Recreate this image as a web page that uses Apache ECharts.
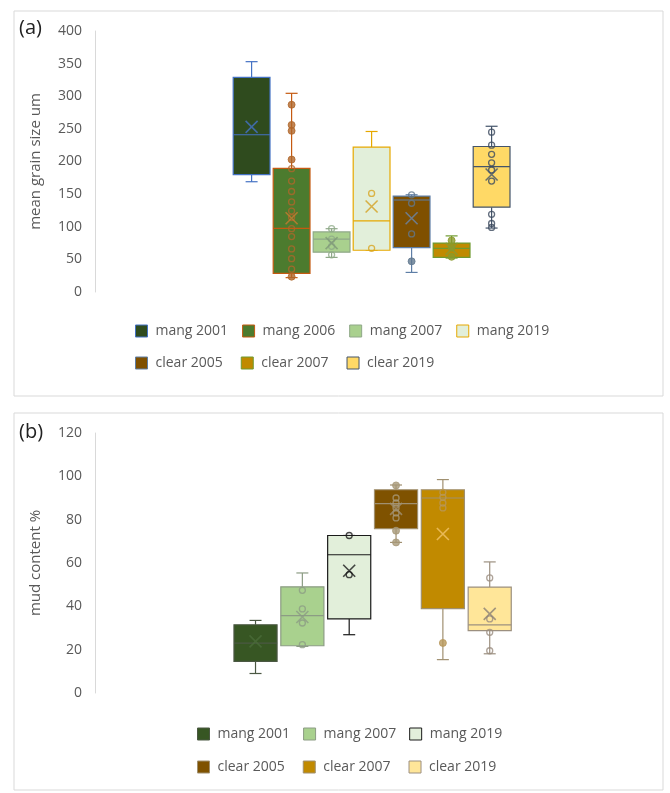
<!DOCTYPE html>
<html>
<head>
<meta charset="utf-8">
<title>box plots</title>
<script src="https://cdn.jsdelivr.net/npm/echarts@6/dist/echarts.min.js"></script>
<style>
html, body {margin: 0; padding: 0; background: #fff;}
#main {width: 670px; height: 793px;}
</style>
</head>
<body>
<div id="main"></div>
<script>
// (a) mean grain size
var namesA = ['mang 2001', 'mang 2006', 'mang 2007', 'mang 2019', 'clear 2005', 'clear 2007', 'clear 2019'];
// min, q1, median, q3, max
var statsA = [
    [169, 180, 241, 329, 353],
    [22, 28.6, 97.5, 189.5, 304.5],
    [53, 61, 81, 92, 97],
    [64, 64, 109, 222, 246],
    [30, 68, 141, 147, 149],
    [52, 53, 67, 75, 86],
    [98, 130, 192, 223, 254]
];
var meansA = [253, 113, 75, 131, 113, 66, 180];
var innerA = [
    [],
    [189, 170, 154, 138, 124, 114, 97, 85, 66, 51, 35],
    [97, 81, 70, 57],
    [151, 67],
    [149, 136, 89],
    [],
    [245, 225, 211, 198, 187, 170, 119, 105, 99]
];
var outerA = [[], [287, 256, 247, 203, 23.5], [], [], [47], [79, 68, 54], []];
var ticksA = [0, 400, 50];

// (b) mud content
var namesB = ['mang 2001', 'mang 2007', 'mang 2019', 'clear 2005', 'clear 2007', 'clear 2019'];
var statsB = [
    [9, 14.6, 23, 31.5, 33.5],
    [21.5, 21.8, 35.7, 49, 55.4],
    [26.9, 34.2, 63.8, 72.7, 72.7],
    [69.5, 75.8, 87.4, 93.8, 96],
    [15.4, 38.9, 90, 93.8, 98.5],
    [18.1, 28.8, 31.4, 48.9, 60.5]
];
var meansB = [23.8, 35.1, 56.4, 85, 73.4, 36.5];
var innerB = [[], [47.4, 38.8, 32.3, 22.3], [72.7, 54.6], [90, 87.7, 85.4, 83.1, 80.8], [92.6, 90.3, 87.7, 85.4], [53.1, 34.2, 28, 19.5]];
var outerB = [[], [], [], [95.8, 74.9, 69.5], [23.1], []];
var ticksB = [0, 120, 20];

// colours
var fillA = ['#2f4b1e', '#4c7b2e', '#a9d08e', '#e2efda', '#7f5000', '#c08a00', '#ffd966'];
var lineA = ['#4472c4', '#c55a11', '#8fa888', '#e6a800', '#5e7ea6', '#6f9a30', '#44546a'];
var dotA = ['#4472c4', '#b0672a', '#8faa88', '#d8a520', '#60788f', '#8a9a2a', '#3c4a5e'];
var meanColA = ['#4472c4', '#c87a30', '#7f9a78', '#d4a020', '#6a86aa', '#8a9a30', '#44546a'];

var fillB = ['#375623', '#a9d18e', '#e2efda', '#7f5200', '#c18a00', '#ffe699'];
var lineB = ['#4b5843', '#8c9c84', '#1a1a1a', '#a09070', '#a09070', '#9c9080'];
var dotB = ['#4b5843', '#8c9c84', '#1a1a1a', '#a89878', '#b8975a', '#9a8c80'];
var meanColB = ['#4a6b38', '#8c9c84', '#1a1a1a', '#a09070', '#f3c46a', '#8a7f75'];

var txt = '#595959';
var font = 'Open Sans';
var xMark = 'path://M0,0L10,10M10,0L0,10';

function boxRender(fill, stroke) {
    return function (params, api) {
        var x = api.value(0);
        var w = api.size([1, 0])[0] * 0.92;
        var lo = api.coord([x, api.value(1)]);
        var q1 = api.coord([x, api.value(2)]);
        var md = api.coord([x, api.value(3)]);
        var q3 = api.coord([x, api.value(4)]);
        var hi = api.coord([x, api.value(5)]);
        var cx = lo[0];
        function ln(x1, y1, x2, y2) {
            return {type: 'line', shape: {x1: x1, y1: y1, x2: x2, y2: y2}, style: {stroke: stroke, lineWidth: 1.2}};
        }
        return {
            type: 'group',
            children: [
                ln(cx, q3[1], cx, hi[1]),
                ln(cx - 6, hi[1], cx + 6, hi[1]),
                ln(cx, q1[1], cx, lo[1]),
                ln(cx - 6, lo[1], cx + 6, lo[1]),
                {type: 'rect', shape: {x: cx - w / 2, y: q3[1], width: w, height: q1[1] - q3[1]},
                    style: {fill: fill, stroke: stroke, lineWidth: 1.2}},
                ln(cx - w / 2, md[1], cx + w / 2, md[1])
            ]
        };
    };
}

function buildPanel(g, names, stats, means, inner, outer, fills, lines, dots, meanCols, series) {
    for (var i = 0; i < names.length; i++) {
        var x = i + 1;
        series.push({
            name: names[i],
            type: 'custom',
            xAxisIndex: g, yAxisIndex: g,
            itemStyle: {color: fills[i], borderColor: lines[i]},
            renderItem: boxRender(fills[i], lines[i]),
            data: [[x].concat(stats[i])],
            z: 2
        });
        series.push({
            type: 'scatter', xAxisIndex: g, yAxisIndex: g, silent: true, z: 3,
            symbol: 'circle', symbolSize: 6,
            itemStyle: {color: 'rgba(0,0,0,0)', borderColor: dots[i], borderWidth: 1.3},
            data: inner[i].map(function (v) { return [x, v]; })
        });
        series.push({
            type: 'scatter', xAxisIndex: g, yAxisIndex: g, silent: true, z: 3,
            symbol: 'circle', symbolSize: 7,
            itemStyle: {color: dots[i], borderColor: dots[i], borderWidth: 1},
            data: outer[i].map(function (v) { return [x, v]; })
        });
        series.push({
            type: 'scatter', xAxisIndex: g, yAxisIndex: g, silent: true, z: 4,
            symbol: xMark, symbolSize: 12,
            itemStyle: {color: meanCols[i], borderColor: meanCols[i], borderWidth: 1.6},
            data: [[x, means[i]]]
        });
    }
}

function legendRow(names, fills, lines, left, top, gap) {
    return {
        left: left, top: top, orient: 'horizontal', selectedMode: false, padding: 0,
        itemWidth: 12, itemHeight: 12, itemGap: gap, icon: 'rect',
        textStyle: {color: txt, fontSize: 14, fontFamily: font, padding: [0, 0, 0, 3]},
        data: names.map(function (n, k) {
            return {name: n, itemStyle: {color: fills[k], borderColor: lines[k], borderWidth: 1}};
        })
    };
}

function yAx(g, ticks, name) {
    return {
        gridIndex: g, type: 'value', min: ticks[0], max: ticks[1], interval: ticks[2],
        axisLine: {show: true, onZero: false, lineStyle: {color: '#d9d9d9'}},
        axisTick: {show: false},
        splitLine: {show: false},
        axisLabel: {color: txt, fontSize: 14, fontFamily: font, margin: 13},
        name: name, nameLocation: 'middle', nameGap: 52,
        nameTextStyle: {color: txt, fontSize: 15, fontFamily: font}
    };
}

var myChart = echarts.init(document.getElementById('main'));
var series = [];
buildPanel(0, namesA, statsA, meansA, innerA, outerA, fillA, lineA, dotA, meanColA, series);
buildPanel(1, namesB, statsB, meansB, innerB, outerB, fillB, lineB, dotB, meanColB, series);

var option = {
    animation: false,
    backgroundColor: '#fff',
    textStyle: {fontFamily: font},
    title: [
        {text: '(a)', left: 19, top: 18, padding: 0, textStyle: {fontSize: 20, fontWeight: 'normal', color: '#222', fontFamily: font}},
        {text: '(b)', left: 19, top: 422, padding: 0, textStyle: {fontSize: 20, fontWeight: 'normal', color: '#222', fontFamily: font}}
    ],
    graphic: [
        {type: 'rect', shape: {x: 14, y: 11, width: 649, height: 385}, style: {fill: 'none', stroke: '#d9d9d9', lineWidth: 1}, silent: true},
        {type: 'rect', shape: {x: 14, y: 413, width: 649, height: 377}, style: {fill: 'none', stroke: '#d9d9d9', lineWidth: 1}, silent: true}
    ],
    legend: [
        legendRow(namesA.slice(0, 4), fillA.slice(0, 4), lineA.slice(0, 4), 135, 324, 14),
        legendRow(namesA.slice(4), fillA.slice(4), lineA.slice(4), 135, 356, 18),
        legendRow(namesB.slice(0, 3), fillB.slice(0, 3), lineB.slice(0, 3), 197, 727, 13),
        legendRow(namesB.slice(3), fillB.slice(3), lineB.slice(3), 197, 760, 18)
    ],
    grid: [
        {left: 95, top: 31, width: 555, height: 261},
        {left: 95, top: 433, width: 555, height: 260}
    ],
    xAxis: [
        {gridIndex: 0, type: 'value', min: -2.915, max: 10.96, show: false},
        {gridIndex: 1, type: 'value', min: -2.427, max: 9.422, show: false}
    ],
    yAxis: [
        yAx(0, ticksA, 'mean grain size um'),
        yAx(1, ticksB, 'mud content %')
    ],
    series: series
};
myChart.setOption(option);
</script>
</body>
</html>
